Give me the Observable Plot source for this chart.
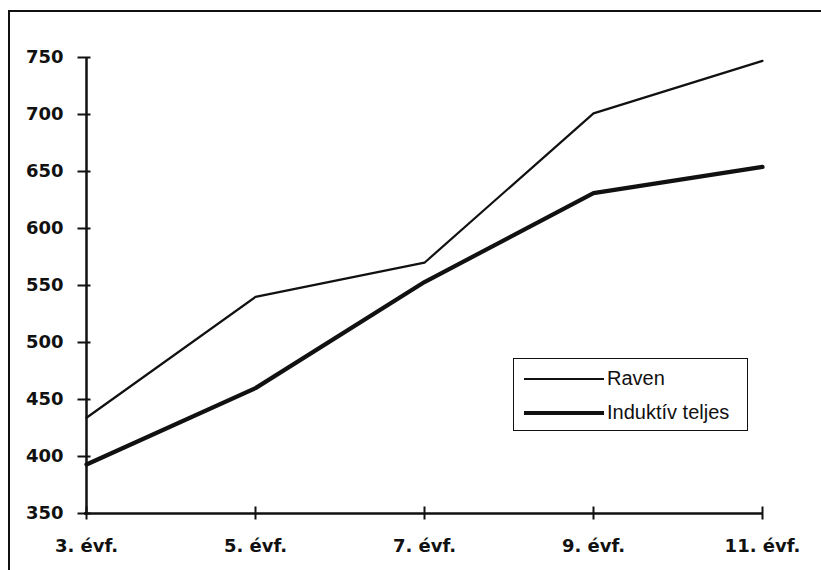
<!DOCTYPE html>
<html>
<head>
<meta charset="utf-8">
<script src="https://cdn.jsdelivr.net/npm/d3@7"></script>
<script src="https://cdn.jsdelivr.net/npm/@observablehq/plot@0.6"></script>
<style>
  html, body { margin: 0; padding: 0; background: #fff; }
  #wrap { position: relative; width: 821px; height: 570px; overflow: hidden; }
  #frame { position: absolute; left: 8px; top: 10px; width: 830px; height: 580px;
           border-left: 2px solid #111; border-top: 2px solid #111; }
  #legend { position: absolute; left: 513px; top: 358px; width: 233px; height: 71px;
            border: 1.5px solid #111; font-family: "Liberation Sans", Arial, sans-serif;
            font-size: 20px; color: #111; }
  .row { position: absolute; left: 10px; display: flex; align-items: center; }
  .sample { width: 80px; border-top-style: solid; border-top-color: #111; }
  .lab { margin-left: 3px; }
</style>
</head>
<body>
<div id="wrap"><div id="frame"></div></div>
<script>
const categories = ["3. évf.", "5. évf.", "7. évf.", "9. évf.", "11. évf."];
const raven = [434, 540, 570, 701, 747];
const induktiv = [393, 460, 553, 631, 654];
const yTicks = [350, 400, 450, 500, 550, 600, 650, 700, 750];
const seriesNames = ["Raven", "Induktív teljes"];

const data = [
  ...categories.map((c, i) => ({cat: c, value: raven[i], series: seriesNames[0]})),
  ...categories.map((c, i) => ({cat: c, value: induktiv[i], series: seriesNames[1]}))
];

const font = "'DejaVu Sans', sans-serif";

const chart = Plot.plot({
  width: 821,
  height: 570,
  marginLeft: 84,
  marginRight: 58,
  marginTop: 57,
  marginBottom: 57,
  style: {background: "transparent", color: "#111", fontFamily: font, fontSize: "18px", fontWeight: "bold"},
  x: {type: "point", domain: categories, padding: 0},
  y: {domain: [350, 750]},
  marks: [
    Plot.ruleX([categories[0]], {stroke: "#111", strokeWidth: 2.5}),
    Plot.ruleY([350], {stroke: "#111", strokeWidth: 2.5}),
    // crossing tick marks (no labels)
    Plot.axisY(yTicks, {anchor: "left", tickSize: 13, dx: 6.5, strokeWidth: 2, stroke: "#111", tickFormat: () => "", label: null}),
    // labels
    Plot.axisY(yTicks, {anchor: "left", tickSize: 0, tickPadding: 21, fontWeight: "bold", fontSize: 18, fill: "#111", label: null}),
    Plot.axisX({anchor: "bottom", tickSize: 13, dy: -6.5, strokeWidth: 2, stroke: "#111", tickFormat: () => "", label: null}),
    Plot.axisX({anchor: "bottom", tickSize: 0, tickPadding: 26, fontWeight: "bold", fontSize: 18, fill: "#111", label: null}),
    Plot.lineY(data.filter(d => d.series === seriesNames[0]), {x: "cat", y: "value", stroke: "#111", strokeWidth: 2.2}),
    Plot.lineY(data.filter(d => d.series === seriesNames[1]), {x: "cat", y: "value", stroke: "#111", strokeWidth: 4.2})
  ]
});
chart.style.position = "absolute";
chart.style.left = "0px";
chart.style.top = "0px";
const wrap = document.getElementById("wrap");
wrap.appendChild(chart);

const legend = document.createElement("div");
legend.id = "legend";
const widths = [2, 4];
seriesNames.forEach((name, i) => {
  const row = document.createElement("div");
  row.className = "row";
  row.style.top = (i === 0 ? 8 : 42) + "px";
  const s = document.createElement("span");
  s.className = "sample";
  s.style.borderTopWidth = widths[i] + "px";
  const t = document.createElement("span");
  t.className = "lab";
  t.textContent = name;
  row.appendChild(s);
  row.appendChild(t);
  legend.appendChild(row);
});
wrap.appendChild(legend);
</script>
</body>
</html>
